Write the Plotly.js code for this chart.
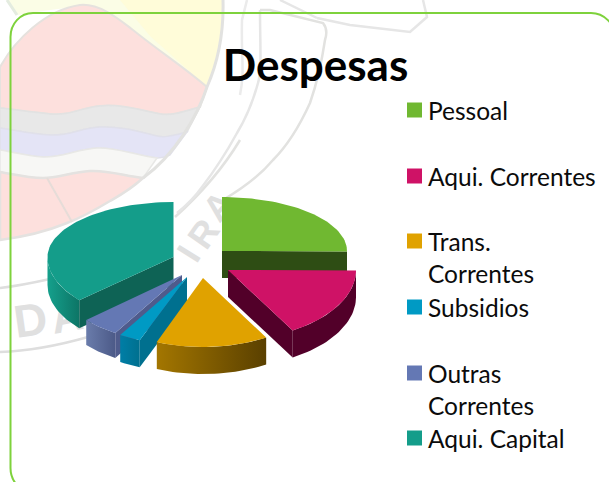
<!DOCTYPE html>
<html><head><meta charset="utf-8">
<script src="https://cdn.plot.ly/plotly-3.0.1.min.js"></script>
<style>html,body{margin:0;padding:0;background:#fff;overflow:hidden}#c{width:609px;height:482px}</style>
</head><body><div id="c"></div>
<script>
// ---- data (percent of total) ----
const categories = ["Pessoal","Aqui. Correntes","Trans. Correntes","Subsidios","Outras Correntes","Aqui. Capital"];
const values = [25, 16.4, 14.4, 2.7, 4.7, 36.4];
const legendLines = [["Pessoal"],["Aqui. Correntes"],["Trans.","Correntes"],["Subsidios"],["Outras","Correntes"],["Aqui. Capital"]];

// ---- styling ----
const topColors  = ["#70b831","#cf1266","#e0a200","#009ac4","#6478b4","#149d8a"];
const cutColors  = ["#2e4d14","#520029",null,"#00708f","#4f5b8c","#0e6355"];
const wallFrom   = ["#2e4d14","#520029","#a37600","#007ea6","#6a7cab","#15a08c"];
const wallTo     = ["#2e4d14","#520029","#5a4000","#00708f","#4c5a88","#0d7566"];
const cutSide    = ["end","end",null,"start","start","start"];
const centerX    = [222,228,203,187,182,173.5];
const centerY    = [251,270,278,277,275,257];
const radiusX    = [125,128,125,128,128,126];
const backRy     = [54,54,54,54,54,55];
const frontRy    = [70,70,69,68,68,65];
const wallDepth  = [27,27,27,27,25,28];
const drawOrder  = [5,0,4,3,1,2];
const legendRowY = [110,176,241,307,373,438];
const lineStep   = 32.5;

const total = values.reduce((a,b)=>a+b,0);
const starts = []; let acc = 0;
values.forEach(v=>{starts.push(acc/total*360); acc+=v;});
const rad = d=>d*Math.PI/180;
function pt(i,t,dy){
  const c=Math.cos(rad(t)), s=Math.sin(rad(t));
  return [centerX[i]+radiusX[i]*s, centerY[i]-c*(c>=0?backRy[i]:frontRy[i])+(dy||0)];
}
function arc(a,b,i,dy){
  const out=[], n=Math.max(2,Math.ceil(Math.abs(b-a)/2));
  for(let k=0;k<=n;k++) out.push(pt(i,a+(b-a)*k/n,dy));
  return out;
}
function poly(points,extra){
  const closed=points.concat([points[0]]);
  return Object.assign({type:"scatter",mode:"lines",x:closed.map(p=>p[0]),y:closed.map(p=>p[1]),
    fill:"toself",line:{width:0},hoverinfo:"skip",showlegend:false},extra);
}
const traces=[];
drawOrder.forEach(i=>{
  const a=starts[i], b=a+values[i]/total*360, d=wallDepth[i];
  const A=[centerX[i],centerY[i]];
  const wa=Math.max(a,90), wb=Math.min(b,270);
  if(wb>wa){
    const top=arc(wa,wb,i,0), bot=arc(wb,wa,i,d);
    traces.push(poly(top.concat(bot),{name:categories[i]+" wall",
      fillgradient:{type:"horizontal",colorscale:[[0,wallFrom[i]],[1,wallTo[i]]]}}));
  }
  if(cutSide[i]){
    const p=pt(i,cutSide[i]==="end"?b:a,0);
    traces.push(poly([A,p,[p[0],p[1]+d],[A[0],A[1]+d]],{name:categories[i]+" cut",fillcolor:cutColors[i]}));
  }
  traces.push(poly([A].concat(arc(a,b,i,0)),{name:categories[i],fillcolor:topColors[i]}));
});
traces.push({type:"scatter",mode:"markers",x:categories.map(()=>414.5),y:legendRowY,
  marker:{symbol:"square",size:15,color:topColors,line:{width:0}},hoverinfo:"skip",showlegend:false});

const annotations=[];
legendLines.forEach((ls,i)=>ls.forEach((t,j)=>annotations.push({
  text:t,x:426.5,y:legendRowY[i]+j*lineStep,xref:"x",yref:"y",xanchor:"left",yanchor:"middle",showarrow:false,
  font:{family:"Lato, Carlito, sans-serif",size:24.5,color:"#0b0b0b"},borderpad:0})));

const ln=(w,c)=>({width:w,color:c});
const none="rgba(0,0,0,0)";
const P=(path,fill,line)=>({type:"path",xref:"x",yref:"y",path,layer:"below",fillcolor:fill||none,line:line||{width:0}});
const G="#e2e2e0";
const W=(t,cx,cy,r,s)=>({type:"rect",xref:"x",yref:"y",layer:"below",x0:cx-40,x1:cx+40,y0:cy-40,y1:cy+40,
  fillcolor:none,line:{width:0},
  label:{text:"<b>"+t+"</b>",textangle:r,textposition:"middle center",
    font:{family:"Liberation Sans, sans-serif",size:s,color:"#e0e0e0"}}});
const shapes=[
  P("M7,0 L223,0 C224,35 218,62 207,87 L133,30 L90,5 L50,10 L17,15 Z","#fbfde6"),
  P("M170,0 L223,0 C224,35 218,62 207,87 L150,36 L120,0 Z","#fffcd9"),
  P("M0,67 C15,40 45,10 80,5 C100,3 120,20 133,30 C155,48 185,68 207,87 L200,107 C180,113 170,116 160,114 C140,110 120,104 100,106 C80,108 70,116 50,114 C30,112 15,110 0,108 Z","#fde0dd",ln(2,"#e6e2de")),
  P("M0,108 C15,110 30,112 50,114 C70,116 80,108 100,106 C120,104 140,110 160,114 C170,116 180,113 200,107 L187,132 C175,135 165,138 157,136 C140,132 120,126 100,127 C80,128 70,136 50,135 C30,134 15,130 0,128 Z","#e8e8e8",ln(1.5,"#e2e2e2")),
  P("M0,128 C15,130 30,134 50,135 C70,136 80,128 100,127 C120,126 140,132 157,136 C165,138 175,135 187,132 L170,155 C165,157 160,158 157,158 C135,155 115,147 97,148 C78,149 60,158 43,157 C28,156 12,152 0,150 Z","#e4e4f6",ln(1.5,"#e0e0ea")),
  P("M0,150 C12,152 28,156 43,157 C60,158 78,149 97,148 C115,147 135,155 157,158 L143,178 C125,176 108,170 90,171 C72,172 58,178 43,178 C28,178 12,174 0,172 Z","#f7f7f5",ln(1.5,"#e8e8e6")),
  P("M0,172 C12,174 28,178 43,178 C58,178 72,172 90,171 C108,170 125,176 143,178 C130,190 117,197 110,201 C95,210 80,218 67,223 C50,230 30,236 0,240 Z","#fde0dd",ln(2.5,"#e4e2e0")),
  P("M47,178 L72,222",none,ln(2,"#e6dcd8")),
  P("M7,0 L17,15",none,ln(3,"#e4ece0")),
  P("M223,0 C224,35 218,62 207,87 C198,115 175,155 143,178",none,ln(3,"#e2e2e0")),
  P("M240,140 C225,165 205,190 175,217",none,ln(2.5,G)),
  P("M247,0 L242,20 C241,60 245,70 240,95",none,ln(2.5,"#ebebeb")),
  P("M260,10 C260,45 262,70 258,83 C252,105 245,120 237,133 C225,155 215,170 202,187 C195,197 187,205 177,213",none,ln(2.5,"#e6e6e6")),
  P("M260,10 L270,10 L323,23 C327,28 327,34 325,40 C322,60 318,80 310,103 C300,125 288,145 273,160 C258,178 240,190 223,200",none,ln(2.5,G)),
  P("M317,18 L350,25 L410,32 L427,17 L423,0",none,ln(2.5,"#e6e6e6")),
  P("M280,0 L317,18",none,ln(2.5,"#e6e6e6")),
  P("M0,288 C18,286 32,283 50,279",none,ln(2.5,"#dedede")),
  P("M0,352 C30,351 60,345 88,337",none,ln(2.5,"#dedede")),
  W("D",30,316,-8,46),
  W("A",66,312,-10,44),
  W("I",186,252,-58,36),
  W("R",201,232,-55,36),
  W("A",216,204,-50,36),
  {type:"path",xref:"x",yref:"y",layer:"above",fillcolor:none,line:ln(2,"#7ed23c"),
   path:"M10.5,37 C10.5,24 20,13 33,13 L591,13 C604,13 615,24 615,37 L615,468 C615,481 604,492 591,492 L33,492 C20,492 10.5,481 10.5,468 Z"}
];

Plotly.newPlot("c",traces,{
  width:609,height:482,margin:{l:0,r:0,t:0,b:0},paper_bgcolor:"#fff",plot_bgcolor:"rgba(0,0,0,0)",
  showlegend:false,
  title:{text:"<b>Despesas</b>",x:315.5/609,xanchor:"center",y:1-66/482,yanchor:"middle",
         font:{family:"Lato, Carlito, sans-serif",size:44,color:"#000"}},
  xaxis:{range:[0,609],visible:false,fixedrange:true},
  yaxis:{range:[482,0],visible:false,fixedrange:true},
  annotations,shapes
},{staticPlot:true,displayModeBar:false});
</script></body></html>
